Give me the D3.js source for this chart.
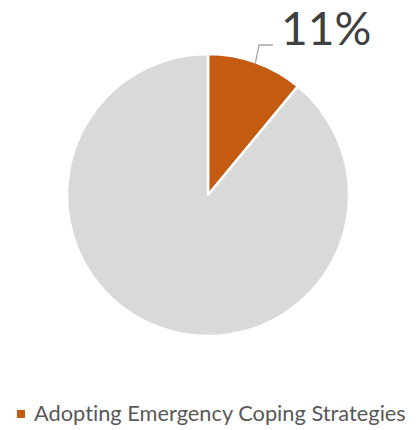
<!DOCTYPE html>
<html>
<head>
<meta charset="utf-8">
<script src="https://cdn.jsdelivr.net/npm/d3@7"></script>
<style>
  html, body { margin: 0; padding: 0; background: #fff; }
  svg { display: block; }
  text { font-variant-ligatures: none; font-feature-settings: "liga" 0, "clig" 0; }
</style>
</head>
<body>
<svg id="chart" width="419" height="430"></svg>
<script>
// Share of households by coping behaviour (percent)
const categories = ["Adopting Emergency Coping Strategies", "Other"];
const values = [11, 89];
const colors = ["#C55A11", "#D9D9D9"];
const labelText = ["11%", null];
const legendItems = ["Adopting Emergency Coping Strategies"];

const svg = d3.select("#chart");
const cx = 208, cy = 195, r = 141;
const fontFamily = "Lato, 'Open Sans', 'Liberation Sans', sans-serif";

const pie = d3.pie().sort(null).value(d => d.value);
const arcs = pie(categories.map((c, i) => ({ name: c, value: values[i], color: colors[i], label: labelText[i] })));
const arc = d3.arc().innerRadius(0).outerRadius(r);

const g = svg.append("g").attr("transform", `translate(${cx},${cy})`);
g.selectAll("path")
  .data(arcs)
  .join("path")
  .attr("d", arc)
  .attr("fill", d => d.data.color)
  .attr("stroke", "#fff")
  .attr("stroke-width", 2.5)
  .attr("stroke-linejoin", "round");

// Data label with a leader line for the highlighted slice
arcs.filter(d => d.data.label).forEach(d => {
  const mid = (d.startAngle + d.endAngle) / 2;
  const p0 = [Math.sin(mid) * r * 0.985, -Math.cos(mid) * r * 0.985];
  const p1 = [p0[0] + 4, -150];
  const p2 = [p1[0] + 14, p1[1]];
  g.append("polyline")
    .attr("points", [p0, p1, p2].map(p => p.join(",")).join(" "))
    .attr("fill", "none")
    .attr("stroke", "#A6A6A6")
    .attr("stroke-width", 1.3);
  g.append("text")
    .attr("x", p2[0] + 8)
    .attr("y", -150)
    .attr("font-family", fontFamily)
    .attr("font-size", 46)
    .attr("fill", "#404040")
    .text(d.data.label);
});

// Legend
const legend = svg.append("g").attr("transform", "translate(17,410)");
legendItems.forEach((name, i) => {
  legend.append("rect")
    .attr("x", 0).attr("y", 0)
    .attr("width", 8).attr("height", 8)
    .attr("fill", colors[i]);
  legend.append("text")
    .attr("x", 17).attr("y", 11)
    .attr("font-family", fontFamily)
    .attr("font-size", 21.8)
    .attr("fill", "#595959")
    .text(name);
});
</script>
</body>
</html>
